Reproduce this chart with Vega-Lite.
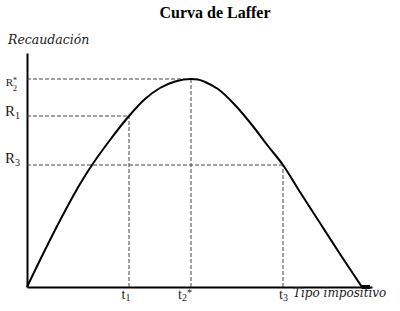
{
  "$schema": "https://vega.github.io/schema/vega-lite/v6.json",
  "width": 345,
  "height": 234,
  "autosize": {"type": "none"},
  "padding": {"left": 27, "top": 53, "right": 28, "bottom": 24},
  "background": "white",
  "config": {"view": {"stroke": null}, "text": {"font": "Liberation Serif", "color": "#1a1a1a"}},
  "datasets": {
    "curve": [
      {"t": 0, "r": 0}, {"t": 18, "r": 37}, {"t": 38, "r": 76}, {"t": 53, "r": 103},
      {"t": 65, "r": 122}, {"t": 83, "r": 147}, {"t": 102, "r": 171}, {"t": 118, "r": 188},
      {"t": 133, "r": 199}, {"t": 148, "r": 205.5}, {"t": 164, "r": 208}, {"t": 171, "r": 207.5},
      {"t": 178, "r": 205}, {"t": 191, "r": 198}, {"t": 208, "r": 182}, {"t": 225, "r": 162},
      {"t": 241, "r": 141}, {"t": 256, "r": 122}, {"t": 273, "r": 95}, {"t": 293, "r": 64},
      {"t": 313, "r": 33}, {"t": 335, "r": 0}
    ],
    "guides": [
      {"t": 0, "r": 208, "t2": 164, "r2": 208},
      {"t": 0, "r": 171, "t2": 102, "r2": 171},
      {"t": 0, "r": 122, "t2": 256, "r2": 122},
      {"t": 102, "r": 0, "t2": 102, "r2": 171},
      {"t": 164, "r": 0, "t2": 164, "r2": 208},
      {"t": 256, "r": 0, "t2": 256, "r2": 122}
    ],
    "rbig": [
      {"t": -12, "r": 171, "label": "R"},
      {"t": -12, "r": 124, "label": "R"}
    ],
    "rbigsub": [
      {"t": -12, "r": 171, "label": "1"},
      {"t": -12, "r": 124, "label": "3"}
    ],
    "rstar": [{"t": -14, "r": 208, "label": "R"}],
    "rstarsub": [{"t": -14, "r": 208, "label": "2"}],
    "rstarsup": [{"t": -14, "r": 208, "label": "*"}],
    "tmain": [
      {"t": 98.5, "r": -12, "label": "t"},
      {"t": 155, "r": -12, "label": "t"},
      {"t": 256, "r": -12, "label": "t"}
    ],
    "tsub": [
      {"t": 98.5, "r": -12, "label": "1"},
      {"t": 155, "r": -12, "label": "2"},
      {"t": 256, "r": -12, "label": "3"}
    ],
    "tsup": [{"t": 160, "r": -12, "label": "*"}]
  },
  "layer": [
    {
      "data": {"name": "guides"},
      "mark": {"type": "rule", "color": "#444", "strokeWidth": 1, "strokeDash": [4, 2]},
      "encoding": {
        "x": {"field": "t", "type": "quantitative", "scale": {"domain": [0, 345], "nice": false, "zero": false},
              "axis": {"domainColor": "black", "domainWidth": 2, "labels": false, "ticks": false, "grid": false, "title": null}},
        "y": {"field": "r", "type": "quantitative", "scale": {"domain": [0, 234], "nice": false, "zero": false},
              "axis": {"domainColor": "black", "domainWidth": 2, "labels": false, "ticks": false, "grid": false, "title": null}},
        "x2": {"field": "t2"},
        "y2": {"field": "r2"}
      }
    },
    {
      "data": {"name": "curve"},
      "mark": {"type": "line", "color": "black", "strokeWidth": 2, "interpolate": "monotone"},
      "encoding": {
        "x": {"field": "t", "type": "quantitative"},
        "y": {"field": "r", "type": "quantitative"}
      }
    },
    {
      "data": {"values": [{"t": 335, "t2": 343, "r": 0}]},
      "mark": {"type": "rule", "color": "black", "strokeWidth": 4},
      "encoding": {
        "x": {"field": "t", "type": "quantitative"},
        "x2": {"field": "t2"},
        "y": {"field": "r", "type": "quantitative"}
      }
    },
    {
      "data": {"name": "rbig"},
      "mark": {"type": "text", "fontSize": 15, "align": "right", "baseline": "alphabetic"},
      "encoding": {
        "x": {"field": "t", "type": "quantitative"},
        "y": {"field": "r", "type": "quantitative"},
        "text": {"field": "label"}
      }
    },
    {
      "data": {"name": "rbigsub"},
      "mark": {"type": "text", "fontSize": 10, "align": "left", "baseline": "alphabetic", "dy": 3},
      "encoding": {
        "x": {"field": "t", "type": "quantitative"},
        "y": {"field": "r", "type": "quantitative"},
        "text": {"field": "label"}
      }
    },
    {
      "data": {"name": "rstar"},
      "mark": {"type": "text", "fontSize": 11, "align": "right", "baseline": "alphabetic", "dy": 7},
      "encoding": {
        "x": {"field": "t", "type": "quantitative"},
        "y": {"field": "r", "type": "quantitative"},
        "text": {"field": "label"}
      }
    },
    {
      "data": {"name": "rstarsub"},
      "mark": {"type": "text", "fontSize": 8, "align": "left", "baseline": "alphabetic", "dy": 12},
      "encoding": {
        "x": {"field": "t", "type": "quantitative"},
        "y": {"field": "r", "type": "quantitative"},
        "text": {"field": "label"}
      }
    },
    {
      "data": {"name": "rstarsup"},
      "mark": {"type": "text", "fontSize": 8, "align": "left", "baseline": "alphabetic", "dy": 4},
      "encoding": {
        "x": {"field": "t", "type": "quantitative"},
        "y": {"field": "r", "type": "quantitative"},
        "text": {"field": "label"}
      }
    },
    {
      "data": {"name": "tmain"},
      "mark": {"type": "text", "fontSize": 14, "align": "right", "baseline": "alphabetic"},
      "encoding": {
        "x": {"field": "t", "type": "quantitative"},
        "y": {"field": "r", "type": "quantitative"},
        "text": {"field": "label"}
      }
    },
    {
      "data": {"name": "tsub"},
      "mark": {"type": "text", "fontSize": 10, "align": "left", "baseline": "alphabetic", "dy": 2},
      "encoding": {
        "x": {"field": "t", "type": "quantitative"},
        "y": {"field": "r", "type": "quantitative"},
        "text": {"field": "label"}
      }
    },
    {
      "data": {"name": "tsup"},
      "mark": {"type": "text", "fontSize": 10, "align": "left", "baseline": "alphabetic", "dy": -3},
      "encoding": {
        "x": {"field": "t", "type": "quantitative"},
        "y": {"field": "r", "type": "quantitative"},
        "text": {"field": "label"}
      }
    },
    {
      "data": {"values": [{"t": 266, "r": -10, "label": "Tipo impositivo"}]},
      "mark": {"type": "text", "font": "DejaVu Serif", "fontSize": 12, "fontStyle": "italic", "align": "left", "baseline": "alphabetic"},
      "encoding": {
        "x": {"field": "t", "type": "quantitative"},
        "y": {"field": "r", "type": "quantitative"},
        "text": {"field": "label"}
      }
    },
    {
      "data": {"values": [{"t": -19, "r": 243, "label": "Recaudación"}]},
      "mark": {"type": "text", "font": "DejaVu Serif", "fontSize": 12.5, "fontStyle": "italic", "align": "left", "baseline": "alphabetic"},
      "encoding": {
        "x": {"field": "t", "type": "quantitative"},
        "y": {"field": "r", "type": "quantitative"},
        "text": {"field": "label"}
      }
    },
    {
      "data": {"values": [{"t": 188, "r": 269, "label": "Curva de Laffer"}]},
      "mark": {"type": "text", "fontSize": 16, "fontWeight": "bold", "align": "center", "baseline": "alphabetic", "color": "black"},
      "encoding": {
        "x": {"field": "t", "type": "quantitative"},
        "y": {"field": "r", "type": "quantitative"},
        "text": {"field": "label"}
      }
    }
  ]
}
